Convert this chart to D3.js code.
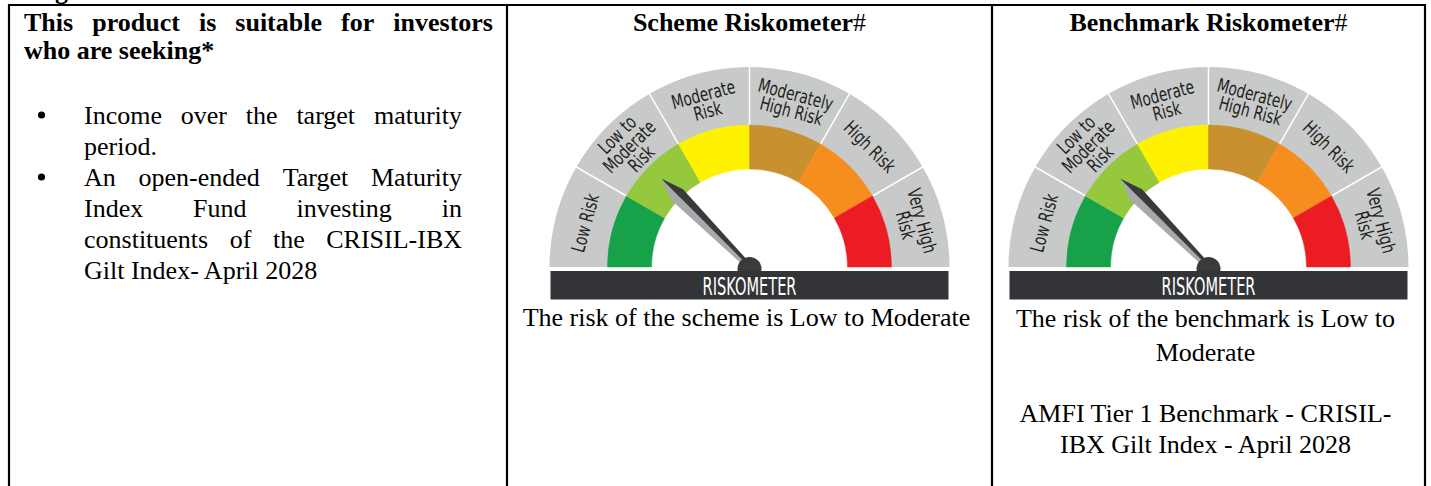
<!DOCTYPE html>
<html>
<head>
<meta charset="utf-8">
<script src="https://cdn.jsdelivr.net/npm/d3@7"></script>
<style>
  body { margin: 0; background: #fff; }
  svg { display: block; }
  .serif { font-family: "Liberation Serif", "Times New Roman", serif; fill: #000; }
  .narrow { font-family: "Liberation Sans Narrow", "Arial Narrow", "DejaVu Sans Condensed", sans-serif; font-stretch: condensed; }
</style>
</head>
<body>
<div id="chart"></div>
<script>
// risk bands of the riskometer, left to right
var riskLevels = ["Low Risk", "Low to Moderate Risk", "Moderate Risk", "Moderately High Risk", "High Risk", "Very High Risk"];
var riskLabelLines = [["Low Risk"], ["Low to", "Moderate", "Risk"], ["Moderate", "Risk"], ["Moderately", "High Risk"], ["High Risk"], ["Very High", "Risk"]];
var riskColors = ["#17a24a", "#95c83d", "#fff200", "#c8902e", "#f68e1f", "#ec1c24"];

// the two meters: scheme and benchmark
var gaugeTitles = ["Scheme Riskometer", "Benchmark Riskometer"];
var gaugeRisk = ["Low to Moderate Risk", "Low to Moderate Risk"];
var captionLines = [
  ["The risk of the scheme is Low to Moderate"],
  ["The risk of the benchmark is Low to", "Moderate", "", "AMFI Tier 1 Benchmark - CRISIL-", "IBX Gilt Index - April 2028"]
];

// left column text
var headingLines = ["This product is suitable for investors", "who are seeking*"];
var bulletItems = [
  ["Income over the target maturity", "period."],
  ["An open-ended Target Maturity", "Index Fund investing in", "constituents of the CRISIL-IBX", "Gilt Index- April 2028"]
];

var width = 1431, height = 486;
var svg = d3.select("#chart").append("svg")
  .attr("width", width)
  .attr("height", height);

var colX = [9, 507, 992, 1425],
    tableTop = 5;

// clipped descender of the line above the table
svg.append("text")
  .attr("class", "serif")
  .attr("x", 55).attr("y", -1)
  .style("font-size", "26px").style("font-weight", "bold")
  .text("g");

// lay one line of words out between x0 and x1, spread if justify
function wordLine(g, str, x0, x1, y, justify, bold) {
  var t = g.append("text")
    .attr("class", "serif")
    .attr("y", y)
    .style("font-size", "26px")
    .style("font-weight", bold ? "bold" : "normal");
  var words = str.split(" ");
  if (!justify || words.length < 2) {
    t.attr("x", x0).text(str);
    return;
  }
  var spans = words.map(function(w) { return t.append("tspan").text(w); });
  var widths = spans.map(function(s) { return s.node().getComputedTextLength(); });
  var gap = (x1 - x0 - d3.sum(widths)) / (words.length - 1);
  var x = x0;
  spans.forEach(function(s, i) {
    s.attr("x", x);
    x += widths[i] + gap;
  });
}

var left = svg.append("g");
wordLine(left, headingLines[0], 24, 493, 31, true, true);
wordLine(left, headingLines[1], 24, 493, 59, false, true);

var lineY = 124;
bulletItems.forEach(function(item) {
  left.append("circle")
    .attr("cx", 41.5).attr("cy", lineY - 9)
    .attr("r", 3.6)
    .attr("fill", "#000");
  item.forEach(function(line, i) {
    wordLine(left, line, 84, 462, lineY, i < item.length - 1, false);
    lineY += 31;
  });
});

// riskometers
var cy = 267,
    rOuter = 200, rBand = 142, rInner = 98, rLabel = 170;

var angle = d3.scaleBand()
  .domain(riskLevels)
  .range([-Math.PI / 2, Math.PI / 2]);

var arc = d3.arc();

function polar(r, a) {
  return [r * Math.sin(a), -r * Math.cos(a)];
}

gaugeTitles.forEach(function(title, gi) {
  var cx = (colX[gi + 1] + colX[gi + 2]) / 2;

  var head = svg.append("text")
    .attr("class", "serif")
    .attr("x", cx).attr("y", 31)
    .attr("text-anchor", "middle")
    .style("font-size", "26px");
  head.append("tspan").style("font-weight", "bold").text(title);
  head.append("tspan").text("#");

  var g = svg.append("g").attr("transform", "translate(" + cx + "," + cy + ")");

  // grey outer ring
  g.append("path")
    .attr("d", arc({innerRadius: rBand - 1, outerRadius: rOuter, startAngle: -Math.PI / 2, endAngle: Math.PI / 2}))
    .attr("fill", "#c8caca");

  // white separators in the grey ring
  g.selectAll("line.sep")
    .data(riskLevels.slice(1))
    .enter().append("line")
    .attr("class", "sep")
    .attr("x1", function(d) { return polar(rBand, angle(d))[0]; })
    .attr("y1", function(d) { return polar(rBand, angle(d))[1]; })
    .attr("x2", function(d) { return polar(rOuter + 1, angle(d))[0]; })
    .attr("y2", function(d) { return polar(rOuter + 1, angle(d))[1]; })
    .attr("stroke", "#fff")
    .attr("stroke-width", 1.5);

  // coloured band
  g.selectAll("path.band")
    .data(riskLevels)
    .enter().append("path")
    .attr("class", "band")
    .attr("d", function(d) {
      return arc({innerRadius: rInner, outerRadius: rBand, startAngle: angle(d), endAngle: angle(d) + angle.bandwidth()});
    })
    .attr("fill", function(d, i) { return riskColors[i]; })
    .attr("stroke", function(d, i) { return riskColors[i]; })
    .attr("stroke-width", 0.5);

  // band labels, written along the arc
  riskLevels.forEach(function(d, i) {
    var a = angle(d) + angle.bandwidth() / 2;
    var p = polar(rLabel, a);
    var lines = riskLabelLines[i];
    var t = g.append("text")
      .attr("class", "narrow")
      .attr("text-anchor", "middle")
      .attr("transform", "translate(" + p[0] + "," + p[1] + ") rotate(" + (a * 180 / Math.PI) + ") scale(0.8,1)")
      .style("font-size", "19px")
      .attr("fill", "#231f20");
    lines.forEach(function(l, j) {
      t.append("tspan")
        .attr("x", 0)
        .attr("y", (j - (lines.length - 1) / 2) * 17 + 6.5)
        .text(l);
    });
  });

  // needle
  var a = angle(gaugeRisk[gi]) + angle.bandwidth() / 2;
  var dir = [Math.sin(a), -Math.cos(a)], perp = [Math.cos(a), Math.sin(a)];
  function pt(along, side) {
    return [dir[0] * along + perp[0] * side, dir[1] * along + perp[1] * side];
  }
  var tip = pt(125, 0), base = pt(0, 0);
  g.append("path")
    .attr("d", d3.line()([tip, pt(102, -8), pt(0, -3), base]) + "Z")
    .attr("fill", "#a7a9ac");
  g.append("path")
    .attr("d", d3.line()([tip, pt(102, 8), pt(0, 3), base]) + "Z")
    .attr("fill", "#3a3a3c");
  g.append("circle")
    .attr("cx", 0).attr("cy", 2)
    .attr("r", 12)
    .attr("fill", "#3a3a3c");

  // RISKOMETER bar
  g.append("rect")
    .attr("x", -199).attr("y", 271 - cy)
    .attr("width", 398).attr("height", 28.5)
    .attr("fill", "#323438");
  g.append("text")
    .attr("class", "narrow")
    .attr("x", 0).attr("y", 295 - cy)
    .attr("text-anchor", "middle")
    .attr("textLength", 94)
    .attr("lengthAdjust", "spacingAndGlyphs")
    .style("font-size", "24px")
    .attr("fill", "#fff")
    .text("RISKOMETER");

  // caption
  var capY = gi === 0 ? [326] : [327, 361, 392, 422, 453];
  captionLines[gi].forEach(function(l, j) {
    if (!l) return;
    svg.append("text")
      .attr("class", "serif")
      .attr("x", cx - 3).attr("y", capY[j])
      .attr("text-anchor", "middle")
      .style("font-size", "26px")
      .text(l);
  });
});

// table rules
svg.append("line")
  .attr("x1", colX[0] - 1).attr("x2", colX[3] + 1)
  .attr("y1", tableTop).attr("y2", tableTop)
  .attr("stroke", "#000").attr("stroke-width", 2.2);
svg.selectAll("line.col")
  .data(colX)
  .enter().append("line")
  .attr("class", "col")
  .attr("x1", function(d) { return d; }).attr("x2", function(d) { return d; })
  .attr("y1", tableTop).attr("y2", height)
  .attr("stroke", "#000").attr("stroke-width", 2.2);
</script>
</body>
</html>
